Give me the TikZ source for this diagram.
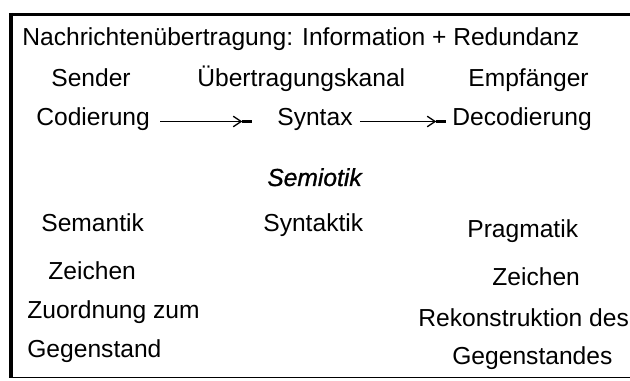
\documentclass[tikz,border=0pt]{standalone}
\usepackage{fontspec}
\setmainfont{Liberation Sans}
\newfontfamily\kopfschrift{Liberation Serif}
\usetikzlibrary{positioning,arrows.meta}

\begin{document}
\begin{tikzpicture}[
    wort/.style={anchor=base west, inner sep=0pt, text height=0.72em, text depth=0.21em,
      font=\fontsize{14}{16}\selectfont},
    pfeil/.style={line width=0.75pt,
      -{Straight Barb[length=4.5pt,width=6pt]Rectangle[length=5.5pt,width=1.7pt]}}]
  \useasboundingbox (0,0) rectangle (12.6,7.62);
  % Rahmen
  \draw[line width=2pt] (0.18,7.33) -- (12.6,7.33);
  \draw[line width=2.8pt] (0.22,7.36) -- (0.22,0.06);
  \draw[line width=0.85pt] (0.18,0.07) -- (12.6,0.07);
  \node[anchor=base west, inner sep=0pt, font=\kopfschrift\bfseries\fontsize{16}{18}\selectfont] (kopf) at (2.48,7.78) {g};
  % Kanal
  \node[wort] (titel) at (0.44,6.70) {Nachrichtenübertragung: Information + Redundanz};
  \node[wort] (sender) at (1.02,5.88) {Sender};
  \node[wort] (kanal) at (3.94,5.88) {Übertragungskanal};
  \node[wort] (empf) at (9.36,5.88) {Empfänger};
  \node[wort] (cod) at (0.72,5.10) {Codierung};
  \node[wort] (syn) at (5.54,5.10) {Syntax};
  \node[wort] (dec) at (9.04,5.10) {Decodierung};
  \draw[pfeil, shorten <=0.2cm, shorten >=0.5cm] (cod.east) -- (syn.west);
  \draw[pfeil, shorten <=0.14cm, shorten >=0.12cm] (syn.east) -- (dec.west);
  % Semiotik
  \node[wort, font=\fontsize{14}{16}\selectfont\itshape\addfontfeature{FakeBold=1}] (semiotik) at (5.34,3.90) {Semiotik};
  \node[wort] (semantik) at (0.82,2.98) {Semantik};
  \node[wort] (syntaktik) at (5.26,2.98) {Syntaktik};
  \node[wort] (pragmatik) at (9.34,2.86) {Pragmatik};
  \node[wort] (zeichenl) at (0.96,2.02) {Zeichen};
  \node[wort] (zeichenr) at (9.84,1.90) {Zeichen};
  \node[wort] (zuord) at (0.54,1.24) {Zuordnung zum};
  \node[wort] (rekon) at (8.36,1.08) {Rekonstruktion des};
  \node[wort] (gegen) at (0.54,0.46) {Gegenstand};
  \node[wort] (gegenst) at (9.04,0.32) {Gegenstandes};
\end{tikzpicture}
\end{document}
